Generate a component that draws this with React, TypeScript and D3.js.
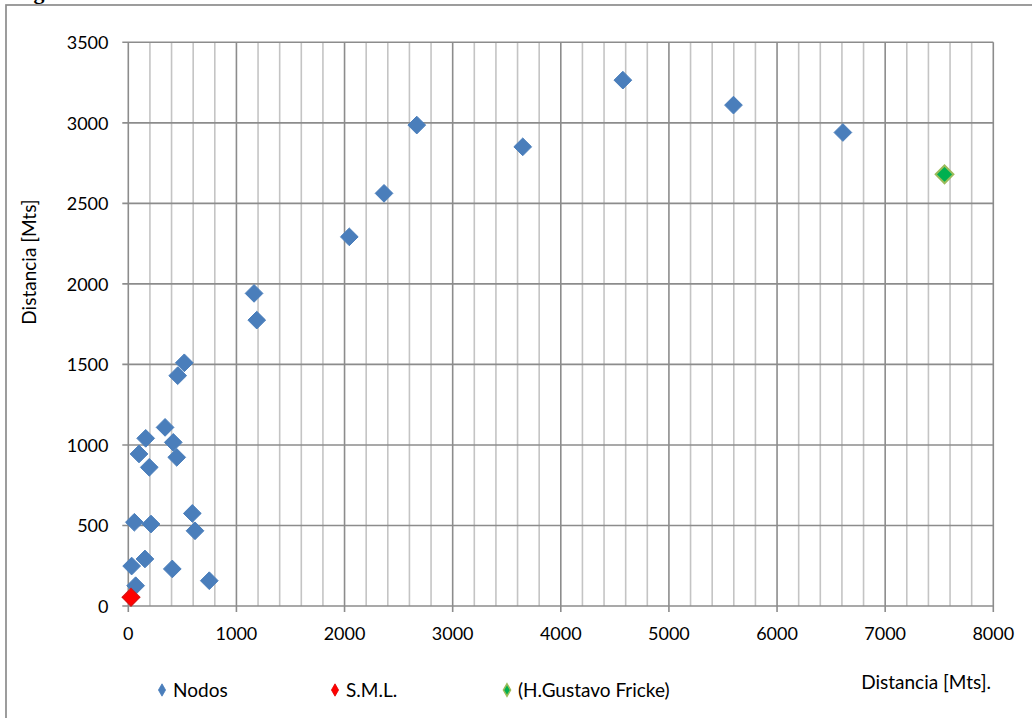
import React from "react";
import * as d3 from "d3";

// Distance of each node (metres) — horizontal and vertical
const nodosX = [56, 210, 592, 617, 31, 154, 407, 749, 68, 518, 457, 340, 161, 416, 99, 448, 194, 1163, 1188, 2044, 2365, 2668, 3648, 4574, 5597, 6609];
const nodosY = [520, 509, 575, 467, 248, 292, 230, 157, 126, 1510, 1430, 1109, 1041, 1016, 944, 923, 861, 1941, 1775, 2292, 2562, 2986, 2851, 3265, 3110, 2940];
const smlX = [25];
const smlY = [54];
const frickeX = [7549];
const frickeY = [2680];

const xTicks = [0, 1000, 2000, 3000, 4000, 5000, 6000, 7000, 8000];
const yTicks = [0, 500, 1000, 1500, 2000, 2500, 3000, 3500];

const legendItems = [
  { label: "Nodos", fill: "#4a7ebb", stroke: "#4a7ebb" },
  { label: "S.M.L.", fill: "#ff0000", stroke: "#e00000" },
  { label: "(H.Gustavo Fricke)", fill: "#00b050", stroke: "#9bbb59" },
];

const W = 1032;
const H = 718;
const FONT = "Lato, 'Open Sans', sans-serif";

const x = d3.scaleLinear().domain([0, 8000]).range([128.3, 993.3]);
const y = d3.scaleLinear().domain([0, 3500]).range([606, 42.3]);

const minorX = d3.range(200, 8000, 200).filter((v) => v % 1000 !== 0);

const diamond = d3.symbol().type(d3.symbolDiamond2).size(200);
const legendDiamond = d3.symbol().type(d3.symbolDiamond).size(44);

function Points({ xs, ys, fill, stroke, sw }: { xs: number[]; ys: number[]; fill: string; stroke: string; sw: number }) {
  return (
    <g>
      {xs.map((v, i) => (
        <path
          key={i}
          d={diamond() as string}
          transform={`translate(${x(v)},${y(ys[i])})`}
          fill={fill}
          stroke={stroke}
          strokeWidth={sw}
        />
      ))}
    </g>
  );
}

export default function App() {
  const legendX = [162, 335, 507];
  return (
    <svg width={W} height={H} style={{ position: "absolute", left: 0, top: 0, background: "#fff" }}>
      {/* caption running above the frame */}
      <text x={14} y={-1.5} fontFamily="'Liberation Serif', serif" fontWeight="bold" fontSize={22} fill="#000">
        Figura
      </text>
      {/* outer frame */}
      <rect x={6} y={5} width={W + 20} height={H + 20} fill="#fff" stroke="#8c8c8c" strokeWidth={1.7} />

      {/* minor vertical grid */}
      {minorX.map((v) => (
        <line key={v} x1={x(v)} x2={x(v)} y1={y(3500)} y2={y(0)} stroke="#c4c4c4" strokeWidth={1.6} />
      ))}
      {/* major vertical grid */}
      {xTicks.map((v) => (
        <line key={v} x1={x(v)} x2={x(v)} y1={y(3500)} y2={y(0) + 6} stroke="#8c8c8c" strokeWidth={1.6} />
      ))}
      {/* horizontal grid */}
      {yTicks.map((v) => (
        <line key={v} x1={x(0) - 6} x2={x(8000)} y1={y(v)} y2={y(v)} stroke="#8c8c8c" strokeWidth={1.6} />
      ))}

      {/* tick labels */}
      {yTicks.map((v) => (
        <text key={v} x={108.5} y={y(v) + 7} textAnchor="end" fontFamily={FONT} fontSize={18} fill="#000">
          {v}
        </text>
      ))}
      {xTicks.map((v) => (
        <text key={v} x={x(v)} y={640} textAnchor="middle" fontFamily={FONT} fontSize={18} fill="#000">
          {v}
        </text>
      ))}

      {/* axis titles */}
      <text
        transform="translate(36,262) rotate(-90)"
        textAnchor="middle"
        fontFamily={FONT}
        fontSize={19}
        fill="#000"
      >
        Distancia [Mts]
      </text>
      <text x={991} y={689} textAnchor="end" fontFamily={FONT} fontSize={19} fill="#000">
        Distancia [Mts].
      </text>

      {/* series */}
      <Points xs={nodosX} ys={nodosY} fill="#4a7ebb" stroke="#4a7ebb" sw={1} />
      <Points xs={smlX} ys={smlY} fill="#ff0000" stroke="#d81010" sw={1.2} />
      <Points xs={frickeX} ys={frickeY} fill="#00b050" stroke="#9bbb59" sw={2} />

      {/* legend */}
      {legendItems.map((it, i) => (
        <g key={it.label} transform={`translate(${legendX[i]},690)`}>
          <path d={legendDiamond() as string} fill={it.fill} stroke={it.stroke} strokeWidth={i === 2 ? 1.5 : 0.8} />
          <text x={11} y={6.5} fontFamily={FONT} fontSize={19} fill="#000">
            {it.label}
          </text>
        </g>
      ))}
    </svg>
  );
}
